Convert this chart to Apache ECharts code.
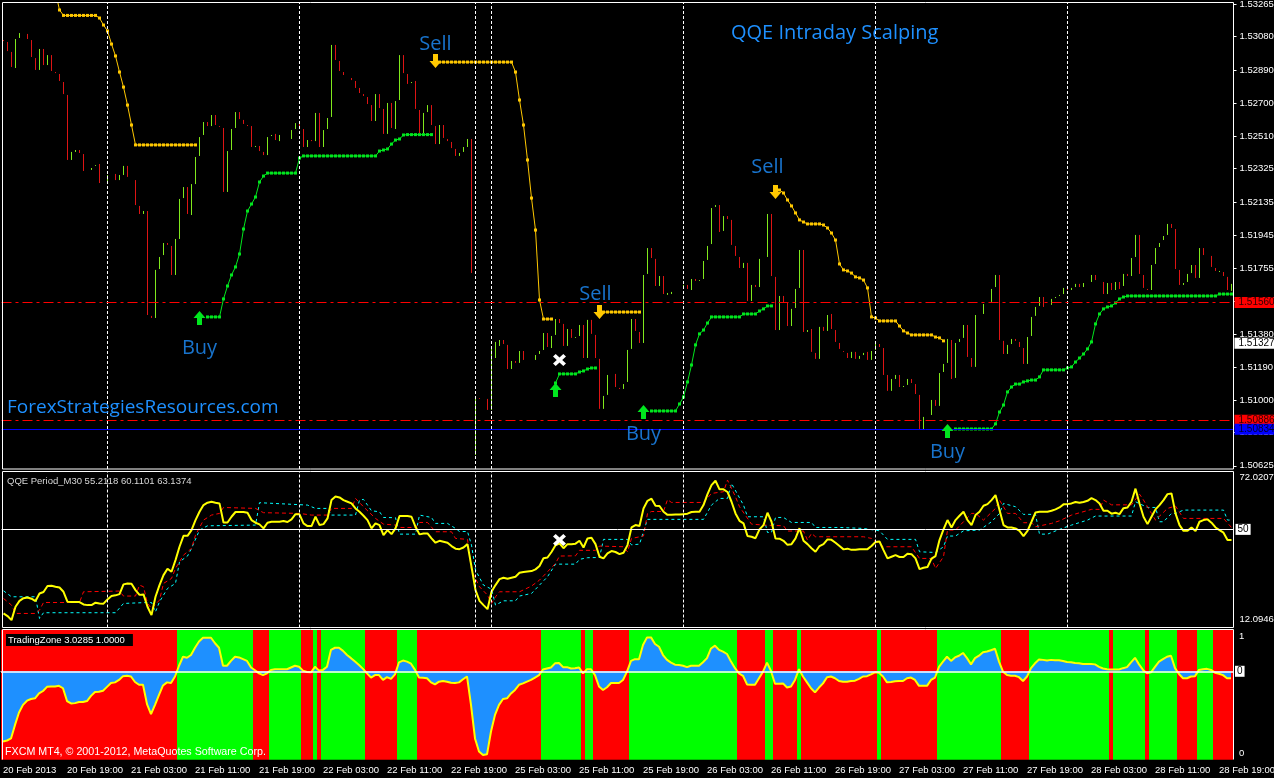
<!DOCTYPE html>
<html>
<head>
<meta charset="utf-8">
<title>QQE Intraday Scalping</title>
<script src="https://cdn.jsdelivr.net/npm/echarts@6/dist/echarts.min.js"></script>
<style>
html, body { margin: 0; padding: 0; background: #000; }
#main { width: 1274px; height: 778px; }
</style>
</head>
<body>
<div id="main"></div>
<script>
// candle bodies, one per bar, null = doji that does not show on the black background
var barOpen = [
1.53061,1.53050,1.52993,1.52901,1.53073,null,1.53096,1.53061,1.52958,1.52890,
1.53010,1.52918,1.52975,1.52878,1.52867,1.52821,1.52747,1.52375,1.52421,1.52432,
1.52409,null,1.52318,1.52341,1.52352,null,1.52255,null,1.52295,1.52260,
1.52289,1.52341,null,1.52260,1.52112,1.52066,1.52083,1.51483,1.51471,1.51751,
1.51831,1.51900,1.51883,1.51717,1.51923,1.52157,1.52220,1.52060,1.52237,1.52398,
1.52518,1.52592,1.52569,1.52632,1.52569,1.52558,1.52192,1.52432,1.52558,1.52649,
1.52604,1.52575,1.52569,1.52449,1.52455,1.52421,1.52403,1.52512,1.52524,1.52483,
null,null,1.52495,1.52552,1.52586,1.52552,1.52449,1.52489,1.52483,1.52644,
1.52449,1.52552,1.52621,1.53033,1.52941,1.52878,null,1.52844,1.52827,1.52787,
1.52752,1.52735,1.52689,1.52598,1.52752,1.52667,1.52524,1.52701,1.52552,1.52718,
1.52975,1.52867,1.52815,1.52827,1.52661,1.52529,1.52649,1.52689,1.52569,1.52466,
1.52575,1.52495,1.52478,1.52438,1.52398,1.52421,1.52449,1.52495,1.50687,1.51013,
null,1.51008,1.50945,1.51242,1.51311,1.51345,1.51317,1.51179,1.51225,1.51214,
1.51282,null,null,1.51231,1.51265,1.51288,1.51385,1.51299,1.51374,1.51465,
1.51437,1.51311,1.51408,1.51357,1.51368,1.51431,1.51242,1.51460,1.51374,1.51237,
1.50951,1.51031,null,1.51151,1.51071,1.51065,1.51105,1.51294,1.51465,1.51391,
1.51328,1.51723,1.51871,1.51809,1.51654,1.51711,1.51603,1.51608,null,null,
1.51637,1.51660,1.51631,1.51694,1.51683,1.51694,1.51803,1.51894,1.52106,1.52117,
1.51969,1.52054,1.52032,1.51883,1.51820,1.51757,1.51786,1.51568,1.51660,1.51648,
null,1.51820,1.52066,1.51706,1.51402,1.51597,1.51557,1.51425,1.51528,1.51643,
1.51860,1.51391,1.51408,1.51271,1.51237,1.51420,1.51397,1.51494,1.51402,1.51328,
1.51282,1.51271,1.51242,1.51277,1.51237,1.51259,1.51277,1.51231,1.51288,1.51322,
1.51299,1.51145,1.51054,1.51122,1.51145,1.51076,1.51088,1.51122,1.51093,1.51031,
1.50830,null,1.50916,1.51002,1.50968,1.51162,1.51214,1.51345,1.51128,1.51334,
1.51357,1.51431,1.51242,1.51191,null,1.51494,null,1.51563,1.51648,1.51717,
1.51340,1.51265,1.51322,1.51351,1.51334,1.51299,1.51208,1.51368,1.51483,1.51540,
1.51591,null,1.51546,1.51585,1.51597,1.51608,1.51643,1.51631,1.51648,1.51666,
1.51648,null,1.51677,1.51717,null,1.51677,1.51608,1.51671,1.51631,1.51677,
1.51654,1.51723,1.51711,1.51820,1.51946,1.51717,1.51637,1.51631,1.51780,1.51877,
1.51917,1.51946,1.52009,1.51980,1.51746,1.51660,1.51677,1.51728,1.51774,1.51700,
1.51871,null,1.51826,1.51757,1.51734,1.51734,1.51706,1.51626
];
var barClose = [
1.53055,1.52998,1.52907,1.53067,1.53101,null,1.53067,1.52964,1.52890,1.53010,
1.52918,1.52975,1.52884,1.52872,1.52827,1.52752,1.52375,1.52421,1.52432,1.52415,
1.52312,null,1.52329,1.52346,1.52243,null,1.52289,null,1.52260,1.52289,
1.52341,1.52278,null,1.52117,1.52066,1.52083,1.51488,1.51471,1.51746,1.51820,
1.51900,1.51889,1.51717,1.51923,1.52152,1.52220,1.52066,1.52237,1.52392,1.52506,
1.52592,1.52569,1.52632,1.52575,1.52564,1.52192,1.52426,1.52552,1.52649,1.52609,
1.52581,1.52569,1.52449,1.52455,1.52426,1.52403,1.52506,1.52518,1.52489,1.52518,
null,null,1.52546,1.52586,1.52558,1.52449,1.52489,1.52483,1.52644,1.52449,
1.52546,1.52615,1.53033,1.52947,1.52884,1.52861,null,1.52832,1.52787,1.52758,
1.52741,1.52695,1.52598,1.52752,1.52672,1.52524,1.52701,1.52558,1.52712,1.52975,
1.52872,1.52810,1.52821,1.52667,1.52529,1.52644,1.52689,1.52575,1.52466,1.52575,
1.52501,1.52483,1.52443,1.52398,1.52415,1.52449,1.52495,1.51728,1.51019,1.51008,
null,1.50945,1.51305,1.51334,1.51345,1.51322,1.51179,1.51225,1.51214,1.51282,
1.51231,null,null,1.51259,1.51282,1.51385,1.51305,1.51368,1.51465,1.51442,
1.51311,1.51408,1.51357,1.51362,1.51431,1.51242,1.51460,1.51380,1.51242,1.50951,
1.51025,1.51145,null,1.51076,1.51065,1.51093,1.51288,1.51465,1.51397,1.51328,
1.51717,1.51871,1.51814,1.51654,1.51711,1.51608,1.51614,1.51620,null,null,
1.51660,1.51637,1.51694,1.51683,1.51688,1.51797,1.51883,1.52100,1.52117,1.51963,
1.52054,1.52037,1.51889,1.51826,1.51757,1.51786,1.51568,1.51660,1.51648,1.51809,
null,1.52066,1.51711,1.51402,1.51597,1.51557,1.51425,1.51523,1.51637,1.51860,
1.51391,1.51402,1.51277,1.51237,1.51420,1.51397,1.51488,1.51408,1.51334,1.51294,
1.51277,1.51242,1.51277,1.51237,1.51254,1.51271,1.51231,1.51282,1.51322,1.51305,
1.51145,1.51054,1.51122,1.51145,1.51076,1.51082,1.51122,1.51099,1.51036,1.50830,
1.50905,null,1.51002,1.50968,1.51156,1.51208,1.51351,1.51122,1.51328,1.51351,
1.51431,1.51248,1.51191,1.51488,null,1.51551,null,1.51637,1.51717,1.51345,
1.51265,1.51317,1.51351,1.51340,1.51305,1.51208,1.51362,1.51477,1.51534,1.51591,
1.51534,null,1.51580,1.51591,1.51603,1.51643,1.51631,1.51643,1.51666,1.51648,
1.51671,null,1.51717,1.51688,null,1.51608,1.51671,1.51631,1.51677,1.51637,
1.51723,1.51711,1.51814,1.51946,1.51723,1.51643,1.51631,1.51774,1.51871,1.51900,
1.51940,1.52009,1.51986,1.51751,1.51660,1.51671,1.51723,1.51774,1.51700,1.51871,
1.51831,null,1.51763,1.51740,1.51740,1.51711,1.51631,1.51666
];

// stop lines of the QQE system, every run has one value per bar from its start bar
var sellStart = [13, 109, 150, 194];
var sellStop1 = [1.53336,1.53233,1.53202,1.53202,1.53202,1.53202,1.53202,1.53202,1.53202,1.53202,1.53202,1.53187,1.53147,1.53113,1.53038,1.52970,1.52878,1.52792,1.52689,1.52575,1.52461,1.52461,1.52461,1.52461,1.52461,1.52461,1.52461,1.52461,1.52461,1.52461,1.52461,1.52461,1.52461,1.52461,1.52461,1.52461];
var sellStop2 = [1.52935,1.52935,1.52935,1.52935,1.52935,1.52935,1.52935,1.52935,1.52935,1.52935,1.52935,1.52935,1.52935,1.52935,1.52935,1.52935,1.52935,1.52935,1.52935,1.52878,1.52718,1.52575,1.52375,1.52157,1.51974,1.51574,1.51465,1.51465,1.51465];
var sellStop3 = [1.51505,1.51505,1.51505,1.51505,1.51505,1.51505,1.51505,1.51505,1.51505,1.51505];
var sellStop4 = [1.52203,1.52186,1.52146,1.52112,1.52072,1.52032,1.52020,1.52009,1.52009,1.52009,1.52009,1.52003,1.51986,1.51957,1.51917,1.51780,1.51746,1.51740,1.51728,1.51706,1.51700,1.51688,1.51643,1.51477,1.51471,1.51454,1.51454,1.51454,1.51454,1.51454,1.51425,1.51397,1.51385,1.51374,1.51374,1.51374,1.51374,1.51374,1.51374,1.51362,1.51357,1.51340];
var buyStart = [51, 138, 162, 238];
var buyStop1 = [1.51477,1.51477,1.51477,1.51477,1.51580,1.51654,1.51717,1.51763,1.51837,1.51980,1.52083,1.52123,1.52163,1.52249,1.52283,1.52300,1.52300,1.52300,1.52300,1.52300,1.52300,1.52300,1.52300,1.52386,1.52398,1.52398,1.52398,1.52398,1.52398,1.52398,1.52398,1.52398,1.52398,1.52398,1.52398,1.52398,1.52398,1.52398,1.52398,1.52398,1.52398,1.52398,1.52398,1.52426,1.52432,1.52438,1.52466,1.52489,1.52495,1.52518,1.52520,1.52520,1.52520,1.52520,1.52520,1.52520,1.52520];
var buyStop2 = [1.51099,1.51151,1.51151,1.51151,1.51151,1.51151,1.51162,1.51168,1.51179,1.51185,1.51185];
var buyStop3 = [1.50939,1.50939,1.50939,1.50939,1.50939,1.50939,1.50939,1.50979,1.51019,1.51105,1.51202,1.51317,1.51380,1.51402,1.51442,1.51477,1.51477,1.51477,1.51477,1.51477,1.51477,1.51477,1.51477,1.51494,1.51494,1.51494,1.51494,1.51511,1.51523,1.51540,1.51540];
var buyStop4 = [1.50836,1.50836,1.50836,1.50836,1.50836,1.50836,1.50836,1.50836,1.50836,1.50836,1.50865,1.50933,1.50973,1.51048,1.51076,1.51093,1.51093,1.51105,1.51111,1.51116,1.51116,1.51134,1.51174,1.51174,1.51174,1.51174,1.51174,1.51174,1.51185,1.51191,1.51219,1.51242,1.51265,1.51294,1.51334,1.51437,1.51494,1.51523,1.51534,1.51540,1.51557,1.51580,1.51591,1.51597,1.51597,1.51597,1.51597,1.51597,1.51597,1.51597,1.51597,1.51597,1.51597,1.51597,1.51597,1.51597,1.51597,1.51597,1.51597,1.51597,1.51597,1.51597,1.51597,1.51597,1.51597,1.51597,1.51608,1.51608,1.51608,1.51608];

// arrows, crosses and captions of the signals
var sellArrowBars = [108, 149, 193];
var sellArrowPrices = [1.52941, 1.51505, 1.52192];
var buyArrowBars = [49, 138, 160, 236];
var buyArrowPrices = [1.51471, 1.51059, 1.50933, 1.50825];
var captionTexts = ['Buy', 'Sell', 'Sell', 'Buy', 'Sell', 'Buy'];
var captionBars = [49, 108, 148, 160, 191, 236];
var captionPrices = [1.51305, 1.53044, 1.51614, 1.50813, 1.52340, 1.50710];

// horizontal price lines
var redLevels = [1.51560, 1.50886];
var blueLevel = 1.50834;
var lastPrice = 1.51327;
var priceTicks = [1.53265,1.53080,1.52890,1.52700,1.52510,1.52325,1.52135,1.51945,1.51755,1.51565,1.51380,1.51190,1.51000,1.50815,1.50625];

// day separators, bar index
var separatorBars = [26, 74, 118, 122, 170, 218, 266];

// time axis labels, one every 16 bars
var dateLabels = ['20 Feb 2013','20 Feb 19:00','21 Feb 03:00','21 Feb 11:00','21 Feb 19:00','22 Feb 03:00','22 Feb 11:00','22 Feb 19:00','25 Feb 03:00','25 Feb 11:00','25 Feb 19:00','26 Feb 03:00','26 Feb 11:00','26 Feb 19:00','27 Feb 03:00','27 Feb 11:00','27 Feb 19:00','28 Feb 03:00','28 Feb 11:00','28 Feb 19:00'];

// QQE, RSI line per bar
var qqeRsi = [
14.7,13.6,11.9,17.5,20.0,21.1,21.4,20.9,19.9,23.1,
23.7,26.2,26.3,25.9,25.6,23.8,19.6,19.5,19.5,19.5,
18.5,18.2,18.2,19.2,18.9,18.8,20.6,22.0,22.3,22.8,
26.9,27.3,27.2,24.5,22.5,22.7,17.5,14.0,21.7,26.6,
30.8,33.5,32.2,37.1,42.7,47.3,47.3,49.7,53.9,57.4,
60.2,61.2,61.6,61.2,60.9,52.9,52.9,55.3,57.3,57.3,
57.3,57.0,53.9,52.8,52.1,50.4,52.8,53.2,53.2,53.2,
53.5,53.1,54.2,56.4,56.3,52.5,51.4,51.4,55.3,51.8,
52.2,54.6,62.3,63.8,63.4,62.3,61.6,60.9,58.8,57.4,
55.7,53.9,50.4,52.5,51.8,47.6,49.7,48.0,50.4,55.6,
55.6,55.6,55.3,51.1,47.9,48.3,48.3,46.2,44.4,45.2,
44.8,44.4,43.0,41.9,41.7,42.4,43.8,34.3,24.5,20.0,
18.2,16.5,23.8,26.6,29.1,29.7,29.3,29.7,30.1,31.8,
32.1,32.3,32.5,33.2,34.6,37.9,38.2,40.5,43.3,44.1,
42.1,43.8,43.8,44.0,45.2,42.4,46.2,46.5,43.8,38.5,
37.8,39.9,40.9,40.5,39.6,40.2,43.4,50.8,51.8,51.4,
58.8,62.0,62.9,59.9,59.8,57.4,56.1,56.1,56.2,56.2,
56.4,56.6,57.3,57.4,57.4,60.2,64.8,68.6,70.4,66.8,
66.8,65.7,61.6,56.7,53.6,52.5,47.2,46.9,46.3,50.0,
51.8,57.0,53.2,46.2,46.1,45.2,43.5,43.8,46.2,50.5,
45.2,43.8,42.1,40.6,43.0,43.8,45.8,45.6,44.4,43.0,
41.6,41.9,41.4,41.4,41.7,41.7,41.7,43.0,44.7,44.9,
41.3,37.8,38.5,39.2,38.4,38.4,39.8,39.6,37.8,33.3,
33.9,34.2,37.7,38.8,45.5,50.0,53.9,50.8,53.9,55.7,
57.4,53.9,51.8,56.0,57.4,59.9,60.6,62.3,64.4,58.1,
51.8,50.8,50.8,50.4,49.4,47.2,49.4,53.2,57.1,57.4,
57.4,57.4,57.8,58.4,59.2,60.5,60.6,60.9,61.5,61.2,
61.5,62.0,63.1,62.3,60.9,57.8,57.8,56.6,57.0,56.4,
58.9,59.2,61.6,67.1,60.9,55.3,52.2,55.3,58.4,60.2,
62.3,64.8,65.1,56.7,51.8,49.4,49.4,50.8,49.3,53.2,
53.9,54.2,52.8,50.8,49.7,48.6,45.5,45.5
];
// QQE, dashed lines: turning points only
var qqeRedBars = [
0,2,3,8,9,10,19,20,29,30,33,34,35,36,37,39,40,42,43,45,
47,48,50,52,54,55,63,65,74,77,81,82,87,88,90,93,95,98,99,103,
104,106,108,112,113,116,117,119,121,122,123,124,129,132,134,136,138,139,143,144,
148,149,155,156,157,160,161,162,165,166,167,175,177,180,181,183,184,187,190,195,
196,200,201,202,203,209,215,217,220,227,229,232,233,235,236,238,242,243,245,248,
249,251,253,255,257,258,262,264,267,272,274,275,277,282,284,285,287,288,291,293,
295,305,307
];
var qqeRedValues = [
21.0,18.2,14.7,14.7,16.1,19.3,19.3,23.8,24.1,22.0,22.0,26.6,25.9,18.9,16.8,20.3,27.3,29.4,33.6,39.2,
42.0,47.6,53.9,56.0,56.7,59.2,58.8,57.0,56.7,56.0,56.0,58.8,58.8,63.0,59.5,54.6,52.2,51.8,50.8,50.8,
52.9,52.9,49.0,49.0,46.2,45.8,32.9,25.9,22.4,18.9,21.7,23.8,23.8,26.2,28.7,32.2,35.7,38.8,38.9,41.2,
41.2,43.0,42.7,40.6,46.2,47.2,56.7,57.5,57.5,62.5,61.3,61.3,65.1,65.8,70.7,63.7,59.5,52.2,51.8,51.5,
49.3,49.3,45.5,48.3,46.9,46.9,46.9,46.2,42.7,42.7,37.8,37.8,33.6,38.5,49.7,49.7,56.7,56.7,53.9,58.8,
62.3,56.7,56.7,52.8,52.8,51.1,52.5,53.6,56.0,58.4,58.4,62.3,60.3,60.3,64.8,62.3,56.7,53.9,58.8,59.8,
54.6,54.6,50.8
];
var qqeCyanBars = [
0,2,8,9,10,28,30,36,37,38,39,41,43,44,46,47,49,51,63,64,
76,78,81,82,88,89,90,92,94,95,98,99,103,104,107,108,111,113,114,116,
117,118,120,122,123,125,128,129,132,134,136,138,143,144,146,149,150,156,157,159,
161,175,177,179,181,182,185,186,190,191,192,193,195,197,202,203,209,215,219,221,
228,229,233,235,236,238,240,244,247,249,250,253,255,258,259,261,264,267,271,273,
282,283,286,288,289,290,292,293,295,305,306,307
];
var qqeCyanValues = [
24.2,21.7,21.7,12.6,15.0,15.0,18.9,19.3,19.3,15.4,19.6,25.2,27.3,36.4,38.8,42.0,49.7,51.5,51.8,61.2,
60.2,58.8,58.8,56.0,56.0,62.3,62.6,57.8,57.4,55.0,54.9,48.0,48.0,56.0,55.0,52.5,52.5,50.4,49.1,49.1,
43.4,32.9,26.6,24.9,18.2,20.0,20.0,22.0,23.1,26.6,30.1,35.4,35.4,37.4,38.1,38.2,45.8,45.8,43.5,43.8,
54.2,54.2,60.2,63.0,63.0,69.3,60.2,55.3,55.3,48.7,48.7,55.0,55.0,52.9,52.9,50.8,50.8,50.4,49.4,45.8,
45.8,40.6,40.3,42.7,47.2,47.2,49.4,49.7,53.2,56.7,60.9,59.5,56.3,56.3,48.0,48.0,50.0,51.8,53.9,55.6,
55.6,61.6,59.2,59.2,53.2,53.2,56.7,56.7,58.1,58.1,53.9,53.9
];
var qqeTicks = [72.0207, 12.0946];
var qqeCrossBar = 139;
var qqeCrossValue = 45.5;
var priceCrossBar = 139;
var priceCrossValue = 1.51231;

// TradingZone histogram line per bar
var zoneLine = [
-2.03,-2.00,-1.94,-1.55,-1.19,-0.97,-0.85,-0.80,-0.78,-0.64,
-0.57,-0.45,-0.44,-0.44,-0.42,-0.49,-0.86,-0.93,-0.92,-0.89,
-0.89,-0.86,-0.71,-0.60,-0.59,-0.56,-0.45,-0.34,-0.32,-0.25,
-0.14,-0.13,-0.15,-0.31,-0.39,-0.39,-0.95,-1.24,-0.97,-0.68,
-0.41,-0.32,-0.34,-0.15,0.16,0.42,0.39,0.47,0.68,0.86,
0.97,0.97,0.97,0.81,0.68,0.16,0.16,0.30,0.42,0.40,
0.35,0.30,0.11,0.03,-0.06,-0.11,-0.06,0.04,0.06,0.06,
0.06,0.06,0.11,0.16,0.13,0.02,-0.02,-0.03,0.13,0.02,
0.04,0.13,0.62,0.68,0.68,0.59,0.47,0.38,0.28,0.18,
0.07,-0.06,-0.18,-0.11,-0.11,-0.25,-0.17,-0.22,-0.09,0.26,
0.31,0.28,0.22,0.04,-0.18,-0.19,-0.20,-0.32,-0.38,-0.30,
-0.28,-0.30,-0.33,-0.34,-0.32,-0.23,-0.15,-0.97,-1.94,-2.32,
-2.42,-2.40,-1.74,-1.26,-0.97,-0.80,-0.78,-0.64,-0.54,-0.39,
-0.35,-0.30,-0.25,-0.18,-0.11,0.05,0.08,0.11,0.23,0.24,
0.12,0.12,0.08,0.09,0.11,-0.06,0.06,0.06,-0.11,-0.44,
-0.54,-0.46,-0.34,-0.34,-0.34,-0.25,-0.01,0.30,0.35,0.35,
0.76,0.98,0.98,0.79,0.71,0.47,0.33,0.25,0.19,0.18,
0.16,0.12,0.16,0.16,0.16,0.26,0.38,0.66,0.74,0.62,
0.57,0.50,0.28,0.09,-0.06,-0.13,-0.38,-0.39,-0.39,-0.20,
-0.01,0.25,0.01,-0.36,-0.36,-0.35,-0.47,-0.44,-0.25,0.06,
-0.15,-0.32,-0.49,-0.61,-0.47,-0.35,-0.17,-0.15,-0.20,-0.28,
-0.30,-0.30,-0.28,-0.27,-0.22,-0.15,-0.14,-0.09,-0.03,-0.04,
-0.15,-0.32,-0.31,-0.29,-0.28,-0.28,-0.20,-0.18,-0.25,-0.42,
-0.42,-0.42,-0.25,-0.18,0.13,0.28,0.42,0.30,0.40,0.45,
0.53,0.38,0.20,0.38,0.45,0.55,0.57,0.61,0.65,0.28,
-0.01,-0.11,-0.13,-0.13,-0.17,-0.28,-0.15,0.09,0.23,0.34,
0.33,0.31,0.33,0.32,0.32,0.30,0.27,0.26,0.24,0.23,
0.21,0.21,0.21,0.20,0.13,0.08,0.06,0.05,0.05,0.05,
0.09,0.12,0.26,0.39,0.20,0.04,-0.06,-0.03,0.13,0.28,
0.35,0.42,0.45,0.09,-0.08,-0.20,-0.20,-0.15,-0.14,0.04,
0.06,0.07,0.04,-0.04,-0.07,-0.11,-0.20,-0.20
];
// bars where the background swaps between red and green, it starts red
var zoneEdges = [44,63,67,75,78,79,80,91,99,104,135,145,146,148,157,184,191,193,199,200,219,220,234,250,257,277,278,286,287,294,299,303,308];
var zoneTicks = [1, 0, -2.38];
var zoneTickLabels = ['1', '0', '0'];

var UP_COLOR = '#80e81c';
var DOWN_COLOR = '#dd1414';
var SELL_COLOR = '#ffc800';
var BUY_COLOR = '#00e61e';
var TEXT_BLUE = '#1e90ff';
var AXIS_FONT = 'Liberation Sans';
var BAR_COUNT = barOpen.length;
var ZONE_MIN = -2.555;
var ZONE_MAX = 1.202;

var ARROW_UP = 'path://M6 0L12 7L8.5 7L8.5 14L3.5 14L3.5 7L0 7Z';
var ARROW_DOWN = 'path://M3.5 0L8.5 0L8.5 7L12 7L6 14L0 7L3.5 7Z';
var CROSS = 'path://M0 2.5L2.5 0L6 3.5L9.5 0L12 2.5L8.5 6L12 9.5L9.5 12L6 8.5L2.5 12L0 9.5L3.5 6Z';

var categories = [];
for (var i = 0; i < BAR_COUNT; i++) {
	categories.push(String(i));
}

var candleData = barOpen.map(function(o, i) {
	var c = barClose[i];
	if (o === null) {
		return '-';
	}
	return [o, c, Math.min(o, c), Math.max(o, c)];
});

function zip(xs, ys) {
	return xs.map(function(x, i) {
		return [x, ys[i]];
	});
}

function fromBar(start, values) {
	return values.map(function(v, i) {
		return [start + i, v];
	});
}

// background runs from the swap points: [first bar, last bar, 0 red / 1 green]
var zoneRuns = zoneEdges.map(function(edge, k) {
	return [k == 0 ? 0 : zoneEdges[k - 1], edge - 1, k % 2];
});

var separators = separatorBars.map(function(b) {
	return { xAxis: b, lineStyle: { color: '#fff', width: 1, type: [3, 2] }, label: { show: false } };
});

function priceLabel(bg, fg) {
	return {
		show: true,
		position: 'end',
		distance: 1,
		formatter: function(p) { return p.value.toFixed(5); },
		fontFamily: AXIS_FONT,
		fontSize: 10,
		color: fg,
		backgroundColor: bg,
		padding: [1, 3, 0, 4]
	};
}

var priceMarks = separators.slice();
redLevels.forEach(function(v) {
	priceMarks.push({ yAxis: v, lineStyle: { color: '#ff0000', width: 1, type: [10, 4, 3, 4] }, label: priceLabel('#ff0000', '#300') });
});
priceMarks.push({ yAxis: blueLevel, lineStyle: { color: '#0000ff', width: 1, type: 'solid' }, label: priceLabel('#0000ff', '#003') });
priceMarks.push({ yAxis: lastPrice, lineStyle: { color: 'rgba(0,0,0,0)' }, label: priceLabel('#fff', '#000') });

var qqeMarks = separators.slice();
qqeMarks.push({
	yAxis: 50,
	lineStyle: { color: '#fff', width: 1, type: 'solid' },
	label: { show: true, position: 'end', distance: 2, formatter: '50', fontFamily: AXIS_FONT, fontSize: 10, color: '#000', backgroundColor: '#fff', padding: [1, 2, 0, 2] }
});

var series = [];

series.push({
	name: 'candles',
	type: 'candlestick',
	xAxisIndex: 0,
	yAxisIndex: 0,
	data: candleData,
	barWidth: 1,
	itemStyle: { color: UP_COLOR, color0: DOWN_COLOR, borderColor: UP_COLOR, borderColor0: DOWN_COLOR, borderWidth: 1 },
	markLine: { silent: true, symbol: 'none', animation: false, precision: 5, data: priceMarks }
});

function addStop(name, start, values, color) {
	series.push({
		name: name,
		type: 'line',
		xAxisIndex: 0,
		yAxisIndex: 0,
		data: fromBar(start, values),
		showSymbol: true,
		showAllSymbol: true,
		symbol: 'rect',
		symbolSize: 3,
		lineStyle: { color: color, width: 1 },
		itemStyle: { color: color },
		z: 4
	});
}
[sellStop1, sellStop2, sellStop3, sellStop4].forEach(function(run, k) {
	addStop('sell stop', sellStart[k], run, SELL_COLOR);
});
[buyStop1, buyStop2, buyStop3, buyStop4].forEach(function(run, k) {
	addStop('buy stop', buyStart[k], run, BUY_COLOR);
});

function addMarkers(name, xIndex, yIndex, points, symbol, size, color) {
	series.push({
		name: name,
		type: 'scatter',
		xAxisIndex: xIndex,
		yAxisIndex: yIndex,
		data: points,
		symbol: symbol,
		symbolSize: size,
		itemStyle: { color: color, opacity: 1 },
		silent: true,
		z: 6
	});
}
addMarkers('sell arrows', 0, 0, zip(sellArrowBars, sellArrowPrices), ARROW_DOWN, [12, 14], SELL_COLOR);
addMarkers('buy arrows', 0, 0, zip(buyArrowBars, buyArrowPrices), ARROW_UP, [12, 14], BUY_COLOR);
addMarkers('cross', 0, 0, [[priceCrossBar, priceCrossValue]], CROSS, [13, 12], '#fff');
addMarkers('cross', 1, 1, [[qqeCrossBar, qqeCrossValue]], CROSS, [13, 12], '#fff');

series.push({
	name: 'captions',
	type: 'scatter',
	xAxisIndex: 0,
	yAxisIndex: 0,
	data: captionBars.map(function(b, i) {
		return { value: [b, captionPrices[i]], name: captionTexts[i] };
	}),
	symbolSize: 0,
	silent: true,
	label: {
		show: true,
		position: 'inside',
		offset: [0, 1],
		formatter: '{b}',
		color: TEXT_BLUE,
		fontFamily: 'Open Sans',
		fontSize: 20
	},
	z: 6
});

series.push({
	name: 'qqe cyan',
	type: 'line',
	xAxisIndex: 1,
	yAxisIndex: 1,
	data: zip(qqeCyanBars, qqeCyanValues),
	showSymbol: false,
	lineStyle: { color: '#00ffff', width: 1, type: [3, 3] },
	z: 3
});
series.push({
	name: 'qqe red',
	type: 'line',
	xAxisIndex: 1,
	yAxisIndex: 1,
	data: zip(qqeRedBars, qqeRedValues),
	showSymbol: false,
	lineStyle: { color: '#ff0000', width: 1, type: [4, 3] },
	z: 3
});
series.push({
	name: 'qqe',
	type: 'line',
	xAxisIndex: 1,
	yAxisIndex: 1,
	data: qqeRsi,
	showSymbol: false,
	lineStyle: { color: '#ffff00', width: 2 },
	markLine: { silent: true, symbol: 'none', animation: false, data: qqeMarks },
	z: 4
});

// red/green background, one rect per run across the whole panel
series.push({
	name: 'zone',
	type: 'custom',
	xAxisIndex: 2,
	yAxisIndex: 2,
	data: zoneRuns,
	encode: { x: [0, 1] },
	silent: true,
	clip: false,
	renderItem: function(params, api) {
		var start = api.coord([api.value(0), ZONE_MAX]);
		var end = api.coord([api.value(1), ZONE_MIN]);
		var band = api.size([1, 0])[0];
		return {
			type: 'rect',
			shape: {
				x: start[0] - band / 2,
				y: start[1],
				width: end[0] - start[0] + band,
				height: end[1] - start[1]
			},
			style: { fill: api.value(2) == 1 ? '#00ff00' : '#ff0000' }
		};
	},
	z: 1
});

series.push({
	name: 'tradingzone',
	type: 'line',
	xAxisIndex: 2,
	yAxisIndex: 2,
	data: zoneLine,
	showSymbol: false,
	lineStyle: { color: '#ffff00', width: 2 },
	areaStyle: { color: '#1e90ff', opacity: 1, origin: 0 },
	markLine: {
		silent: true,
		symbol: 'none',
		animation: false,
		data: [{
			yAxis: 0,
			lineStyle: { color: '#fff', width: 1.5, type: 'solid' },
			label: { show: true, position: 'end', distance: 2, formatter: '0', fontFamily: AXIS_FONT, fontSize: 10, color: '#000', backgroundColor: '#fff', padding: [1, 2, 0, 2] }
		}]
	},
	z: 3
});

function hiddenX(gridIndex) {
	return {
		type: 'category',
		gridIndex: gridIndex,
		data: categories,
		boundaryGap: true,
		axisLine: { show: false },
		axisTick: { show: false },
		axisLabel: { show: false },
		splitLine: { show: false }
	};
}

var option = {
	backgroundColor: '#000',
	animation: false,
	title: [
		{ text: 'QQE Intraday Scalping', left: 731, top: 23, textStyle: { color: TEXT_BLUE, fontFamily: 'Open Sans', fontSize: 20, fontWeight: 'normal' }, padding: 0 },
		{ text: 'ForexStrategiesResources.com', left: 7, top: 398, textStyle: { color: TEXT_BLUE, fontFamily: 'Open Sans', fontSize: 19, fontWeight: 'normal' }, padding: 0 },
		{ text: 'QQE Period_M30 55.2118 60.1101 63.1374', left: 7, top: 476, textStyle: { color: '#d8d8d8', fontFamily: AXIS_FONT, fontSize: 9.5, fontWeight: 'normal' }, padding: 0 },
		{ text: 'TradingZone 3.0285 1.0000', left: 6, top: 634, backgroundColor: '#000', padding: [1, 8, 1, 2], textStyle: { color: '#fff', fontFamily: AXIS_FONT, fontSize: 9.5, fontWeight: 'normal' } },
		{ text: 'FXCM MT4, \u00a9 2001-2012, MetaQuotes Software Corp.', left: 5, top: 747, textStyle: { color: '#fff', fontFamily: AXIS_FONT, fontSize: 10.7, fontWeight: 'normal' }, padding: 0 }
	],
	// outerBoundsMode none: v6 would otherwise shrink the grids to keep the labels inside
	grid: [
		{ left: 1.5, top: 3, width: 1232, height: 466, outerBoundsMode: 'none' },
		{ left: 1.5, top: 471.5, width: 1232, height: 156, outerBoundsMode: 'none' },
		{ left: 1, top: 629.7, width: 1232, height: 130, outerBoundsMode: 'none' }
	],
	xAxis: [
		hiddenX(0),
		hiddenX(1),
		{
			type: 'category',
			gridIndex: 2,
			data: categories,
			boundaryGap: true,
			axisLine: { show: true, lineStyle: { color: '#fff', width: 1, type: [2, 2] } },
			axisTick: { show: true, interval: 15, alignWithLabel: true, length: 3, lineStyle: { color: '#fff' } },
			axisLabel: {
				show: true,
				interval: 15,
				align: 'left',
				margin: 6,
				color: '#fff',
				fontFamily: AXIS_FONT,
				fontSize: 9.5,
				formatter: function(v, idx) { return dateLabels[idx / 16]; }
			},
			splitLine: { show: false }
		}
	],
	yAxis: [
		{
			type: 'value',
			gridIndex: 0,
			position: 'right',
			min: 1.50607,
			max: 1.53273,
			scale: true,
			axisLine: { show: false },
			splitLine: { show: false },
			axisTick: { show: true, length: 3, lineStyle: { color: '#fff' }, customValues: priceTicks },
			axisLabel: {
				show: true,
				margin: 6,
				color: '#fff',
				fontFamily: AXIS_FONT,
				fontSize: 9.5,
				customValues: priceTicks,
				formatter: function(v) { return v.toFixed(5); }
			}
		},
		{
			type: 'value',
			gridIndex: 1,
			position: 'right',
			min: 8.8,
			max: 74.3,
			axisLine: { show: false },
			splitLine: { show: false },
			axisTick: { show: false },
			axisLabel: {
				show: true,
				margin: 6,
				color: '#fff',
				fontFamily: AXIS_FONT,
				fontSize: 9.5,
				customValues: qqeTicks,
				formatter: function(v) { return v.toFixed(4); }
			}
		},
		{
			type: 'value',
			gridIndex: 2,
			position: 'right',
			min: ZONE_MIN,
			max: ZONE_MAX,
			axisLine: { show: false },
			splitLine: { show: false },
			axisTick: { show: false },
			axisLabel: {
				show: true,
				margin: 6,
				color: '#fff',
				fontFamily: AXIS_FONT,
				fontSize: 9.5,
				customValues: zoneTicks,
				formatter: function(v) { return zoneTickLabels[zoneTicks.indexOf(v)]; }
			}
		}
	],
	// panel frames
	graphic: [
		{ type: 'rect', z: 20, silent: true, shape: { x: 2.5, y: 2.5, width: 1231, height: 466.5 }, style: { fill: 'none', stroke: '#fff', lineWidth: 1 } },
		{ type: 'rect', z: 20, silent: true, shape: { x: 2.5, y: 471.5, width: 1231, height: 156 }, style: { fill: 'none', stroke: '#fff', lineWidth: 1 } },
		{ type: 'line', z: 20, silent: true, shape: { x1: 2.5, y1: 629.5, x2: 1233.5, y2: 629.5 }, style: { stroke: '#fff', lineWidth: 1 } },
		{ type: 'line', z: 20, silent: true, shape: { x1: 2.5, y1: 629.5, x2: 2.5, y2: 759.5 }, style: { stroke: '#fff', lineWidth: 1 } },
		{ type: 'line', z: 20, silent: true, shape: { x1: 1233.5, y1: 629.5, x2: 1233.5, y2: 759.5 }, style: { stroke: '#fff', lineWidth: 1 } }
	],
	series: series
};

var chart = echarts.init(document.getElementById('main'));
chart.setOption(option);
</script>
</body>
</html>
